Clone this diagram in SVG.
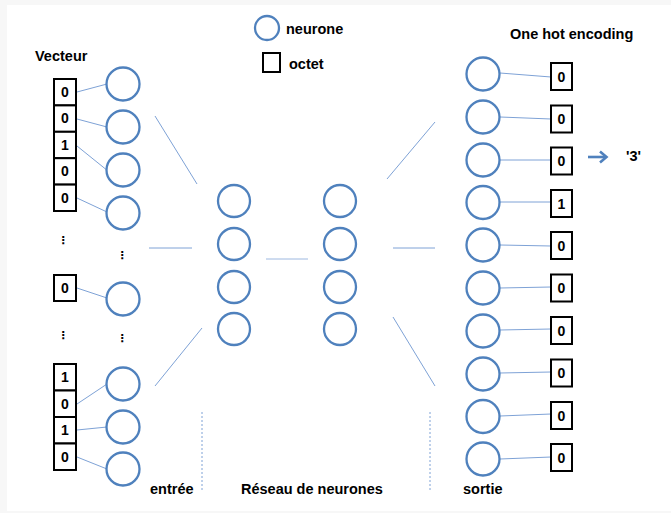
<svg xmlns="http://www.w3.org/2000/svg" width="671" height="513" viewBox="0 0 671 513">
<style>
.n{fill:#fff;stroke:#4f81bd;stroke-width:2.3}
.b{fill:#fff;stroke:#000;stroke-width:2}
.t{font-family:"Liberation Sans",Arial,sans-serif;font-weight:bold;font-size:14.5px;fill:#000}
.v{font-family:"DejaVu Sans",sans-serif;font-weight:bold;font-size:11px;fill:#000;text-anchor:middle}
.d{font-family:"Liberation Sans",Arial,sans-serif;font-weight:bold;font-size:14px;fill:#000;text-anchor:middle}
.c{stroke:#7ea2d6;stroke-width:1;fill:none}
.dash{stroke:#7ea2d6;stroke-width:1;stroke-dasharray:2 2;fill:none}
</style>
<rect x="0" y="0" width="671" height="513" fill="#f7f7f7"/>
<rect x="7" y="5" width="664" height="506" fill="#fff"/>

<g id="connectors">
<line class="c" x1="77" y1="92" x2="107" y2="84"/>
<line class="c" x1="77" y1="119" x2="107" y2="127"/>
<line class="c" x1="77" y1="146" x2="108" y2="171"/>
<line class="c" x1="77" y1="198" x2="107" y2="212"/>
<line class="c" x1="77" y1="288" x2="107" y2="298"/>
<line class="c" x1="77" y1="404" x2="107" y2="384"/>
<line class="c" x1="77" y1="430" x2="107" y2="427"/>
<line class="c" x1="77" y1="457" x2="107" y2="469"/>
<line class="c" x1="155" y1="116" x2="197" y2="184"/>
<line class="c" x1="149" y1="248" x2="192" y2="248"/>
<line class="c" x1="202" y1="328" x2="155" y2="386"/>
<line class="c" x1="266" y1="259" x2="308" y2="259" stroke-width="1.6" style="stroke:#9db8e0"/>
<line class="c" x1="387" y1="179" x2="435" y2="122"/>
<line class="c" x1="393" y1="248" x2="435" y2="248"/>
<line class="c" x1="393" y1="317" x2="435" y2="386"/>
<line class="c" x1="500" y1="73" x2="551" y2="77"/>
<line class="c" x1="500" y1="117" x2="551" y2="119"/>
<line class="c" x1="500" y1="160" x2="551" y2="160"/>
<line class="c" x1="500" y1="202" x2="551" y2="202"/>
<line class="c" x1="500" y1="245" x2="551" y2="246"/>
<line class="c" x1="500" y1="288" x2="551" y2="287"/>
<line class="c" x1="500" y1="330" x2="551" y2="329"/>
<line class="c" x1="500" y1="373" x2="551" y2="372"/>
<line class="c" x1="500" y1="416" x2="551" y2="414"/>
<line class="c" x1="500" y1="459" x2="551" y2="457"/>
<line class="dash" x1="202" y1="412" x2="202" y2="490"/>
<line class="dash" x1="430" y1="412" x2="430" y2="490"/>
<g id="arrow3" stroke="#4f81bd" stroke-width="2.6" fill="none">
<line x1="588" y1="157" x2="606" y2="157"/>
<polyline points="600,151.5 606.5,157 600,162.5"/>
</g>
</g>

<g id="legend">
<circle class="n" cx="267" cy="28" r="12"/>
<text class="t" x="286" y="34">neurone</text>
<rect class="b" x="263" y="53" width="17" height="19"/>
<text class="t" x="289" y="69">octet</text>
</g>

<g id="labels">
<text class="t" x="35" y="61">Vecteur</text>
<text class="t" x="510" y="39">One hot encoding</text>
<text class="t" x="626" y="161">'3'</text>
<text class="t" x="150" y="494">entrée</text>
<text class="t" x="241" y="494">Réseau de neurones</text>
<text class="t" x="463" y="494">sortie</text>
<text class="v" x="63" y="244">⋮</text>
<text class="v" x="122" y="259">⋮</text>
<text class="v" x="63" y="339">⋮</text>
<text class="v" x="122" y="342">⋮</text>
</g>

<g id="input-vector-top">
<rect class="b" x="54" y="79" width="22" height="26.4"/>
<rect class="b" x="54" y="105.4" width="22" height="26.4"/>
<rect class="b" x="54" y="131.8" width="22" height="26.4"/>
<rect class="b" x="54" y="158.2" width="22" height="26.4"/>
<rect class="b" x="54" y="184.6" width="22" height="26.4"/>
<text class="d" x="65" y="97">0</text>
<text class="d" x="65" y="123.4">0</text>
<text class="d" x="65" y="149.8">1</text>
<text class="d" x="65" y="176.2">0</text>
<text class="d" x="65" y="202.6">0</text>
</g>
<g id="input-vector-mid">
<rect class="b" x="54" y="275" width="22" height="26"/>
<text class="d" x="65" y="293">0</text>
</g>
<g id="input-vector-bottom">
<rect class="b" x="54" y="364" width="22" height="26.5"/>
<rect class="b" x="54" y="390.5" width="22" height="26.5"/>
<rect class="b" x="54" y="417" width="22" height="26.5"/>
<rect class="b" x="54" y="443.5" width="22" height="26.5"/>
<text class="d" x="65" y="382">1</text>
<text class="d" x="65" y="408.5">0</text>
<text class="d" x="65" y="435">1</text>
<text class="d" x="65" y="461.5">0</text>
</g>

<g id="input-neurons">
<circle class="n" cx="123" cy="84" r="16.5"/>
<circle class="n" cx="123" cy="127" r="16.5"/>
<circle class="n" cx="123" cy="170" r="16.5"/>
<circle class="n" cx="123" cy="213" r="16.5"/>
<circle class="n" cx="123" cy="299" r="16.5"/>
<circle class="n" cx="123" cy="384" r="16.5"/>
<circle class="n" cx="123" cy="427" r="16.5"/>
<circle class="n" cx="123" cy="469" r="16.5"/>
</g>

<g id="hidden-layer-1">
<circle class="n" cx="234" cy="201" r="16"/>
<circle class="n" cx="234" cy="244" r="16"/>
<circle class="n" cx="234" cy="287" r="16"/>
<circle class="n" cx="234" cy="329" r="16"/>
</g>
<g id="hidden-layer-2">
<circle class="n" cx="340" cy="201" r="16"/>
<circle class="n" cx="340" cy="244" r="16"/>
<circle class="n" cx="340" cy="287" r="16"/>
<circle class="n" cx="340" cy="329" r="16"/>
</g>

<g id="output-neurons">
<circle class="n" cx="483" cy="74" r="16.5"/>
<circle class="n" cx="483" cy="117" r="16.5"/>
<circle class="n" cx="483" cy="160" r="16.5"/>
<circle class="n" cx="483" cy="202.5" r="16.5"/>
<circle class="n" cx="483" cy="245" r="16.5"/>
<circle class="n" cx="483" cy="288" r="16.5"/>
<circle class="n" cx="483" cy="331" r="16.5"/>
<circle class="n" cx="483" cy="374" r="16.5"/>
<circle class="n" cx="483" cy="416.5" r="16.5"/>
<circle class="n" cx="483" cy="459" r="16.5"/>
</g>

<g id="output-encoding">
<rect class="b" x="551" y="63" width="21" height="27"/>
<rect class="b" x="551" y="105.5" width="21" height="27"/>
<rect class="b" x="551" y="147.5" width="21" height="27"/>
<rect class="b" x="551" y="190" width="21" height="27"/>
<rect class="b" x="551" y="232" width="21" height="27"/>
<rect class="b" x="551" y="274.5" width="21" height="27"/>
<rect class="b" x="551" y="317" width="21" height="27"/>
<rect class="b" x="551" y="359.5" width="21" height="27"/>
<rect class="b" x="551" y="402" width="21" height="27"/>
<rect class="b" x="551" y="444" width="21" height="27"/>
<text class="d" x="561.5" y="81.5">0</text>
<text class="d" x="561.5" y="124">0</text>
<text class="d" x="561.5" y="166">0</text>
<text class="d" x="561.5" y="208.5">1</text>
<text class="d" x="561.5" y="250.5">0</text>
<text class="d" x="561.5" y="293">0</text>
<text class="d" x="561.5" y="335.5">0</text>
<text class="d" x="561.5" y="378">0</text>
<text class="d" x="561.5" y="420.5">0</text>
<text class="d" x="561.5" y="462.5">0</text>
</g>
</svg>
